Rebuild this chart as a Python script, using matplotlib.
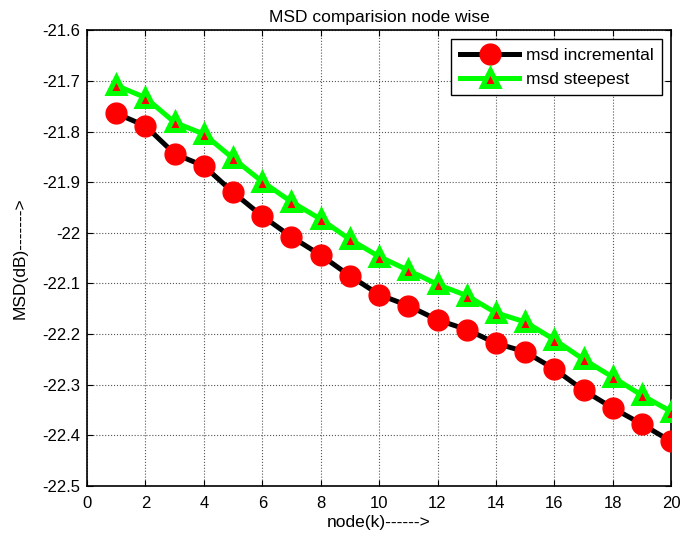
import matplotlib
matplotlib.use("Agg")
import matplotlib.pyplot as plt
import numpy as np

plt.rcParams['font.family'] = ['Liberation Sans', 'DejaVu Sans']

nodes = list(range(1, 21))
msd_incremental = [-21.764, -21.789, -21.844, -21.868, -21.920, -21.967, -22.008, -22.044,
                   -22.085, -22.122, -22.144, -22.172, -22.191, -22.218, -22.235, -22.269,
                   -22.311, -22.346, -22.378, -22.412]
msd_steepest = [-21.709, -21.733, -21.782, -21.805, -21.853, -21.899, -21.939, -21.973,
                -22.013, -22.047, -22.074, -22.102, -22.124, -22.158, -22.176, -22.211,
                -22.250, -22.285, -22.321, -22.353]

xticks = list(range(0, 21, 2))
yticks = [-22.5, -22.4, -22.3, -22.2, -22.1, -22.0, -21.9, -21.8, -21.7, -21.6]
yticklabels = ['-22.5', '-22.4', '-22.3', '-22.2', '-22.1', '-22', '-21.9', '-21.8', '-21.7', '-21.6']

fig = plt.figure(figsize=(6.8, 5.38), dpi=100)
ax = fig.add_axes([0.128, 0.0967, 0.859, 0.847])

ax.plot(nodes, msd_incremental, color='black', lw=3.6, marker='o', markersize=15,
        markerfacecolor='red', markeredgecolor='red', markeredgewidth=1, label='msd incremental',
        zorder=3)
ax.plot(nodes, msd_steepest, color='#00ff00', lw=3.6, marker='^', markersize=12,
        markerfacecolor='red', markeredgecolor='#00ff00', markeredgewidth=3.6, label='msd steepest',
        zorder=4)

ax.set_xlim(0, 20)
ax.set_ylim(-22.5, -21.6)
ax.set_xticks(xticks)
ax.set_yticks(yticks)
ax.set_yticklabels(yticklabels)
ax.tick_params(direction='in', top=True, right=True, labelsize=12, length=4)
ax.tick_params(axis='x', pad=7)
ax.tick_params(axis='y', pad=5)
ax.grid(True, color='#555555', linestyle=':', linewidth=0.8)
for s in ax.spines.values():
    s.set_linewidth(1.2)

ax.set_title('MSD comparision node wise', fontsize=12.5, pad=6)
ax.set_xlabel('node(k)------>', fontsize=12.5, labelpad=3)
ax.set_ylabel('MSD(dB)------->', fontsize=12.5, labelpad=10)

leg = ax.legend(loc='upper right', fontsize=12.5, fancybox=False, framealpha=1,
                edgecolor='black', handlelength=3.4, borderaxespad=0.5,
                borderpad=0.5, labelspacing=0.5, handletextpad=0.4)
leg.get_frame().set_linewidth(1.0)

fig.savefig('out.png', dpi=100)
